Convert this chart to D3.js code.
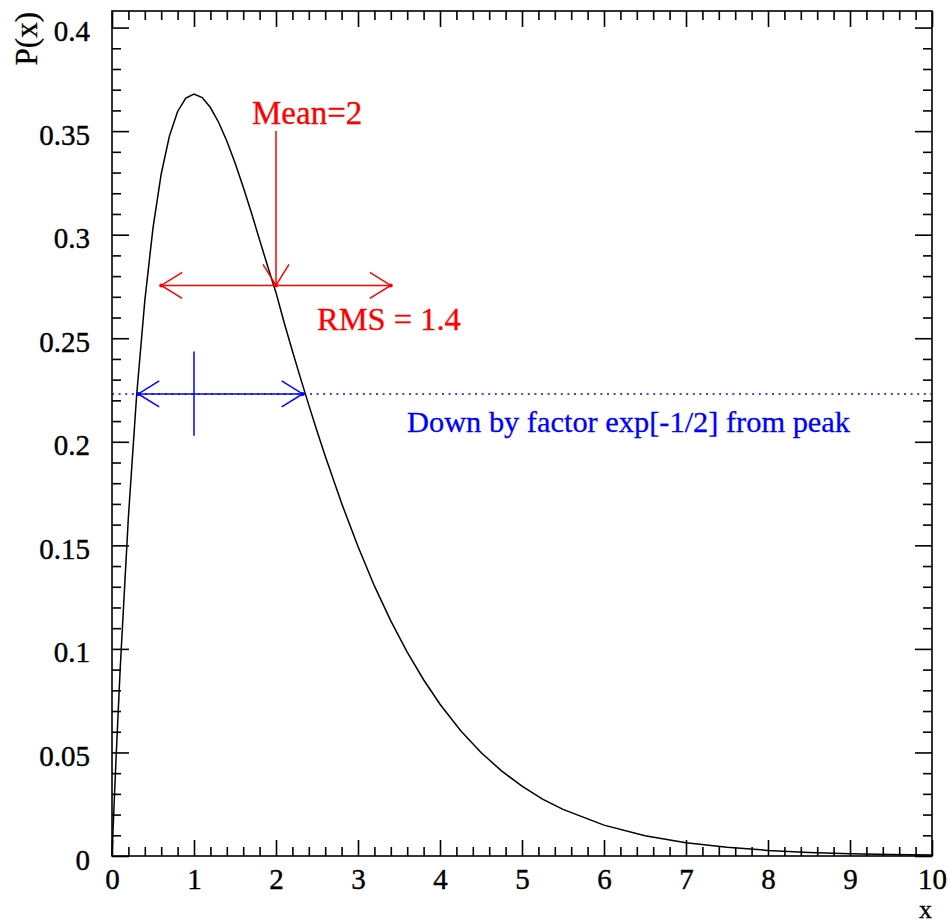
<!DOCTYPE html>
<html>
<head>
<meta charset="utf-8">
<script src="https://cdn.jsdelivr.net/npm/d3@7"></script>
<style>
  html, body { margin: 0; padding: 0; background: #ffffff; }
  svg { display: block; }
</style>
</head>
<body>
<div id="chart"></div>
<script>
// curve P(x)
const xValues = [0, 0.02, 0.05, 0.1, 0.2, 0.3, 0.4, 0.5, 0.6, 0.7, 0.8, 0.9, 1.0, 1.1, 1.2, 1.3, 1.4, 1.5, 1.6, 1.7,
  1.8, 1.9, 2.0, 2.1, 2.2, 2.3, 2.4, 2.5, 2.6, 2.8, 3.0, 3.2, 3.4, 3.6, 3.8, 4.0, 4.25, 4.5, 4.75, 5.0,
  5.25, 5.5, 6.0, 6.5, 7.0, 7.5, 8.0, 8.5, 9.0, 9.5, 10]
const pValues = [0, 0.0196, 0.0476, 0.0905, 0.1637, 0.2222, 0.2681, 0.3033, 0.3293, 0.3476, 0.3595, 0.3659, 0.3679,
  0.3662, 0.3614, 0.3543, 0.3452, 0.3347, 0.323, 0.3106, 0.2975, 0.2845, 0.272, 0.2575, 0.2438, 0.2306, 0.2177,
  0.2052, 0.1931, 0.1703, 0.1494, 0.1304, 0.1135, 0.0984, 0.0851, 0.0733, 0.0606, 0.05, 0.0411, 0.0337,
  0.0275, 0.0225, 0.0149, 0.0098, 0.0064, 0.0042, 0.0027, 0.0017, 0.0011, 0.0007, 0.0005]

const xTicks = [0, 1, 2, 3, 4, 5, 6, 7, 8, 9, 10]
const xTickLabels = ['0', '1', '2', '3', '4', '5', '6', '7', '8', '9', '10']
const yTicks = [0, 0.05, 0.1, 0.15, 0.2, 0.25, 0.3, 0.35, 0.4]
const yTickLabels = ['0', '0.05', '0.1', '0.15', '0.2', '0.25', '0.3', '0.35', '0.4']

// annotations
const meanX = 2
const rmsHalf = 1.4
const rmsY = 0.2755
const meanTopY = 0.35
const peakX = 1
const halfLevel = 0.2231
const halfLow = 0.32
const halfHigh = 2.325
const peakBar = [0.2029, 0.2436]

const W = 948
const H = 924
const FONT = 'Liberation Serif, Times New Roman, serif'
const RED = '#ff0000'
const BLUE = '#0000ff'

const svg = d3.select('#chart').append('svg').attr('width', W).attr('height', H)
svg.append('rect').attr('width', W).attr('height', H).attr('fill', '#ffffff')

const x = d3.scaleLinear().domain([0, 10]).range([112, 932])
const y = d3.scaleLinear().domain([0, 0.408]).range([856, 11])

const minorX = d3.range(0, 50).map((i) => i * 0.2).filter((v) => Math.abs(v - Math.round(v)) > 1e-6)
const minorY = d3.range(0, 41).map((i) => i * 0.01).filter((v) => Math.abs(v * 20 - Math.round(v * 20)) > 1e-6)

const styleAxis = (g) => {
  g.select('.domain').remove()
  g.selectAll('line').attr('stroke', '#000').attr('stroke-width', 1.6)
  g.selectAll('text')
    .attr('fill', '#000')
    .attr('stroke', '#000')
    .attr('stroke-width', 0.4)
    .attr('font-family', FONT)
    .attr('font-size', 29)
}

// bottom
svg.append('g')
  .attr('transform', `translate(0,${y(0)})`)
  .call(d3.axisBottom(x).tickValues(xTicks).tickSize(-16).tickPadding(12)
    .tickFormat((d, i) => xTickLabels[i]))
  .call(styleAxis)
svg.append('g')
  .attr('transform', `translate(0,${y(0)})`)
  .call(d3.axisBottom(x).tickValues(minorX).tickSize(-9).tickFormat(''))
  .call(styleAxis)

// top
svg.append('g')
  .attr('transform', `translate(0,${y.range()[1]})`)
  .call(d3.axisTop(x).tickValues(xTicks).tickSize(-16).tickFormat(''))
  .call(styleAxis)
svg.append('g')
  .attr('transform', `translate(0,${y.range()[1]})`)
  .call(d3.axisTop(x).tickValues(minorX).tickSize(-9).tickFormat(''))
  .call(styleAxis)

// left
svg.append('g')
  .attr('transform', `translate(${x(0)},0)`)
  .call(d3.axisLeft(y).tickValues(yTicks).tickSize(-17).tickPadding(22)
    .tickFormat((d, i) => yTickLabels[i]))
  .call(styleAxis)
  .call((g) => g.selectAll('text').attr('dy', '0.45em'))
svg.append('g')
  .attr('transform', `translate(${x(0)},0)`)
  .call(d3.axisLeft(y).tickValues(minorY).tickSize(-9).tickFormat(''))
  .call(styleAxis)

// right
svg.append('g')
  .attr('transform', `translate(${x(10)},0)`)
  .call(d3.axisRight(y).tickValues(yTicks).tickSize(-17).tickFormat(''))
  .call(styleAxis)
svg.append('g')
  .attr('transform', `translate(${x(10)},0)`)
  .call(d3.axisRight(y).tickValues(minorY).tickSize(-9).tickFormat(''))
  .call(styleAxis)

// frame
svg.append('rect')
  .attr('x', x(0))
  .attr('y', y.range()[1])
  .attr('width', x(10) - x(0))
  .attr('height', y(0) - y.range()[1])
  .attr('fill', 'none')
  .attr('stroke', '#000')
  .attr('stroke-width', 1.6)

// axis titles
svg.append('text')
  .attr('transform', `translate(37,12) rotate(-90)`)
  .attr('text-anchor', 'end')
  .attr('font-family', FONT)
  .attr('font-size', 31)
  .attr('fill', '#000')
  .attr('stroke', '#000')
  .attr('stroke-width', 0.3)
  .text('P(x)')

svg.append('text')
  .attr('x', 932)
  .attr('y', 918.3)
  .attr('text-anchor', 'end')
  .attr('font-family', FONT)
  .attr('font-size', 26)
  .attr('fill', '#000')
  .attr('stroke', '#000')
  .attr('stroke-width', 0.3)
  .text('x')

// curve
const curveData = xValues.map((v, i) => ({ x: v, p: pValues[i] }))
svg.append('path')
  .datum(curveData)
  .attr('d', d3.line().x((d) => x(d.x)).y((d) => y(d.p)))
  .attr('fill', 'none')
  .attr('stroke', '#000')
  .attr('stroke-width', 1.5)

// open arrowhead at (tx, ty) pointing along (dx, dy)
const arrowHead = (g, tx, ty, dx, dy, color) => {
  const len = 21
  const half = 13
  const bx = tx - dx * len
  const by = ty - dy * len
  g.append('path')
    .attr('d', `M${bx - dy * half},${by + dx * half}L${tx},${ty}L${bx + dy * half},${by - dx * half}`)
    .attr('fill', 'none')
    .attr('stroke', color)
    .attr('stroke-width', 1.5)
  g.append('circle').attr('cx', tx).attr('cy', ty).attr('r', 2).attr('fill', color)
}

// mean + rms (red)
const red = svg.append('g')
red.append('line')
  .attr('x1', x(meanX - rmsHalf)).attr('x2', x(meanX + rmsHalf))
  .attr('y1', y(rmsY)).attr('y2', y(rmsY))
  .attr('stroke', RED).attr('stroke-width', 1.5)
arrowHead(red, x(meanX - rmsHalf), y(rmsY), -1, 0, RED)
arrowHead(red, x(meanX + rmsHalf), y(rmsY), 1, 0, RED)
red.append('line')
  .attr('x1', x(meanX)).attr('x2', x(meanX))
  .attr('y1', y(meanTopY)).attr('y2', y(rmsY))
  .attr('stroke', RED).attr('stroke-width', 1.5)
arrowHead(red, x(meanX), y(rmsY), 0, 1, RED)

red.append('text')
  .attr('x', 252).attr('y', 124)
  .attr('font-family', FONT).attr('font-size', 33)
  .attr('fill', RED).attr('stroke', RED).attr('stroke-width', 0.3)
  .text('Mean=2')
red.append('text')
  .attr('x', 317).attr('y', 330)
  .attr('font-family', FONT).attr('font-size', 32.5)
  .attr('fill', RED).attr('stroke', RED).attr('stroke-width', 0.3)
  .text('RMS = 1.4')

// half-height width (blue)
const blue = svg.append('g')
blue.append('line')
  .attr('x1', x(0)).attr('x2', x(10))
  .attr('y1', y(halfLevel)).attr('y2', y(halfLevel))
  .attr('stroke', BLUE).attr('stroke-width', 1.5)
  .attr('stroke-dasharray', '2 4.6')
blue.append('line')
  .attr('x1', x(halfLow)).attr('x2', x(halfHigh))
  .attr('y1', y(halfLevel)).attr('y2', y(halfLevel))
  .attr('stroke', BLUE).attr('stroke-width', 1.5)
arrowHead(blue, x(halfLow), y(halfLevel), -1, 0, BLUE)
arrowHead(blue, x(halfHigh), y(halfLevel), 1, 0, BLUE)
blue.append('line')
  .attr('x1', x(peakX)).attr('x2', x(peakX))
  .attr('y1', y(peakBar[0])).attr('y2', y(peakBar[1]))
  .attr('stroke', BLUE).attr('stroke-width', 1.5)

blue.append('text')
  .attr('x', 407).attr('y', 432)
  .attr('font-family', FONT).attr('font-size', 30.4)
  .attr('fill', BLUE).attr('stroke', BLUE).attr('stroke-width', 0.3)
  .text('Down by factor exp[-1/2] from peak')
</script>
</body>
</html>
